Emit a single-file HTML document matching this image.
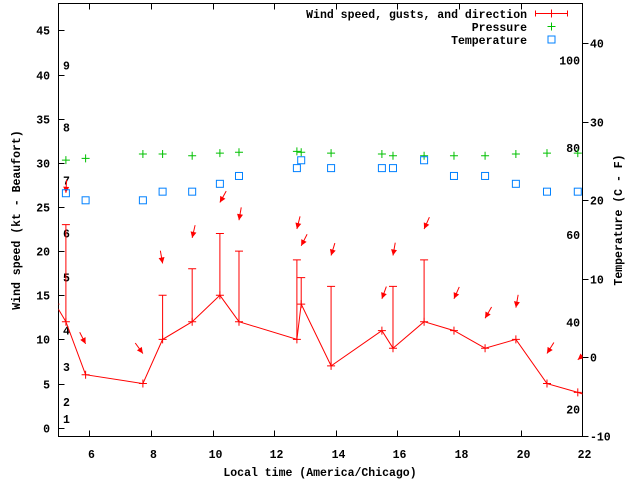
<!DOCTYPE html>
<html><head><meta charset="utf-8"><style>
body{margin:0;background:#fff}
svg{display:block}
text{font-family:"Liberation Mono",monospace;font-size:11.5px;font-weight:bold;fill:#000}
</style></head><body>
<svg id="chart" width="640" height="480" viewBox="0 0 640 480" xmlns="http://www.w3.org/2000/svg">
<defs><clipPath id="clip"><rect x="58.5" y="3.5" width="524" height="433"/></clipPath></defs>
<g id="axes"></g>
<g id="plot" clip-path="url(#clip)"></g>
<g id="legend"></g>
</svg>
<script>
// ---- data ----
const times = [4.9, 5.24, 5.88, 7.74, 8.38, 9.34, 10.24, 10.86, 12.74, 12.88, 13.85, 15.5, 15.86, 16.87, 17.84, 18.85, 19.85, 20.86, 21.86, 22.3];
const windSpeed = [14, 12, 6, 5, 10, 12, 15, 12, 10, 14, 7, 11, 9, 12, 11, 9, 10, 5, 4, 3.5];
const windGust = [null, 23, null, null, 15, 18, 22, 20, 19, 17, 16, null, 16, 19, null, null, null, null, null, null];
const arrowTimes = [5.24, 5.88, 7.74, 8.38, 9.34, 10.24, 10.86, 12.74, 12.88, 13.85, 15.5, 15.86, 16.87, 17.84, 18.85, 19.85, 20.86, 21.86];
const arrowLevel = [26.6, 9.5, 8.4, 18.6, 21.5, 25.5, 23.5, 22.5, 20.6, 19.5, 14.6, 19.5, 22.5, 14.6, 12.4, 13.6, 8.4, 7.7];
const windDir = [3, 333, 324, 350, 13, 29, 10, 14, 27, 17, 20, 10, 24, 24, 30, 10, 32, 50];
const obsTimes = [5.24, 5.88, 7.74, 8.38, 9.34, 10.24, 10.86, 12.74, 12.88, 13.85, 15.5, 15.86, 16.87, 17.84, 18.85, 19.85, 20.86, 21.86];
const pressure = [30.3, 30.5, 31.0, 31.0, 30.8, 31.1, 31.2, 31.3, 31.2, 31.1, 31.0, 30.8, 30.8, 30.8, 30.8, 31.0, 31.1, 31.1];
const tempC = [20.9, 20.0, 20.0, 21.1, 21.1, 22.1, 23.1, 24.1, 25.1, 24.1, 24.1, 24.1, 25.1, 23.1, 23.1, 22.1, 21.1, 21.1];
const xTicks = [6, 8, 10, 12, 14, 16, 18, 20, 22];
const yTicks = [0, 5, 10, 15, 20, 25, 30, 35, 40, 45];
const cTicks = [-10, 0, 10, 20, 30, 40];
const fTicks = [20, 40, 60, 80, 100];
const beaufortLabels = ['1','2','3','4','5','6','7','8','9'];
const beaufortPos = [1, 2.9, 6.9, 11, 17, 22, 28, 34, 41];

// ---- scales ----
const X = t => 58.5 + (t - 5) * 30.8;
const Y = v => 427.7 - v * 8.83;
const YC = c => 357.3 - c * 7.85;
const YF = f => YC((f - 32) * 5 / 9);

const NS = 'http://www.w3.org/2000/svg';
function mk(tag, attrs, parent, txt) {
  const e = document.createElementNS(NS, tag);
  for (const k in attrs) e.setAttribute(k, attrs[k]);
  if (txt !== undefined) e.textContent = txt;
  parent.appendChild(e);
  return e;
}
const axes = document.getElementById('axes');
const plot = document.getElementById('plot');
const legend = document.getElementById('legend');

// frame
let el = mk('rect', {x:58.5, y:3.5, width:524, height:433, fill:'none', stroke:'#000', 'stroke-width':1}, axes);



xTicks.forEach(t => {
  const x = Math.round(X(t)) + 0.5;
  mk('line', {x1:x, x2:x, y1:436.5, y2:430.5, stroke:'#000'}, axes);
  mk('line', {x1:x, x2:x, y1:3.5, y2:9.5, stroke:'#000'}, axes);
  const lb = mk('text', {x:x + 2, y:458, 'text-anchor':'middle'}, axes, String(t));
  
  
});
yTicks.forEach(v => {
  const y = Math.round(Y(v)) + 0.5;
  mk('line', {x1:58.5, x2:64.5, y1:y, y2:y, stroke:'#000'}, axes);
  const lb = mk('text', {x:50, y:y + 4, 'text-anchor':'end'}, axes, String(v));
  
  
});
cTicks.forEach(c => {
  const y = Math.round(YC(c)) + 0.5;
  mk('line', {x1:582.5, x2:588.5, y1:y, y2:y, stroke:'#000'}, axes);
  const lb = mk('text', {x:590, y:y + 4, 'text-anchor':'start'}, axes, String(c));
  
  
});
fTicks.forEach(f => {
  const lb = mk('text', {x:580, y:YF(f) + 4, 'text-anchor':'end'}, axes, String(f));
  
  
});
beaufortLabels.forEach((s, i) => {
  const lb = mk('text', {x:63, y:Y(beaufortPos[i]) + 4}, axes, s);
  
  
});
el = mk('text', {x:320, y:476, 'text-anchor':'middle'}, axes, 'Local time (America/Chicago)');


el = mk('text', {x:0, y:0, 'text-anchor':'middle', transform:'translate(20,220) rotate(-90)'}, axes, 'Wind speed (kt - Beaufort)');


el = mk('text', {x:0, y:0, 'text-anchor':'middle', transform:'translate(622,220) rotate(-90)'}, axes, 'Temperature (C - F)');



function plus(g, x, y, col) {
  mk('path', {d:`M${x-4},${y}H${x+4}M${x},${y-4}V${y+4}`, stroke:col, 'stroke-width':1, fill:'none'}, g);
}

// wind line
const pts = times.map((t, i) => X(t).toFixed(1) + ',' + Y(windSpeed[i]).toFixed(1)).join(' ');
el = mk('polyline', {points:pts, fill:'none', stroke:'#f00', 'stroke-width':1}, plot);


times.forEach((t, i) => {
  const x = X(t), y = Y(windSpeed[i]);
  const g = mk('g', {}, plot);
  
  
  plus(g, x, y, '#f00');
  if (windGust[i] !== null) {
    const yg = Y(windGust[i]);
    mk('path', {d:`M${x},${y}V${yg}M${x-4},${yg}H${x+4}`, stroke:'#f00', fill:'none'}, g);
  }
});
// arrows
arrowTimes.forEach((t, i) => {
  const hx = X(t), hy = Y(arrowLevel[i]);
  const a = windDir[i] * Math.PI / 180, L = 13;
  const ux = Math.sin(a), uy = -Math.cos(a);
  const tx = hx + ux * L, ty = hy + uy * L;
  const px = -uy, py = ux;
  const g = mk('g', {}, plot);
  
  
  mk('line', {x1:tx, y1:ty, x2:hx, y2:hy, stroke:'#f00'}, g);
  const bx = hx + ux * 6, by = hy + uy * 6;
  mk('polygon', {points:`${hx},${hy} ${bx + px*3},${by + py*3} ${bx - px*3},${by - py*3}`, fill:'#f00'}, g);
});
// pressure
obsTimes.forEach((t, i) => {
  const g = mk('g', {}, plot);
  
  
  plus(g, X(t), Y(pressure[i]), '#00c000');
});
// temperature
obsTimes.forEach((t, i) => {
  el = mk('rect', {x:X(t) - 3.5, y:YC(tempC[i]) - 3.5, width:7, height:7, fill:'none', stroke:'#0080ff'}, plot);
  
  
});

// legend
el = mk('text', {x:527, y:18, 'text-anchor':'end'}, legend, 'Wind speed, gusts, and direction');


el = mk('path', {d:'M535.5,13.5H567.5M535.5,10.5V16.5M567.5,10.5V16.5M551.5,9.5V17.5', stroke:'#f00', fill:'none'}, legend);


el = mk('text', {x:527, y:31, 'text-anchor':'end'}, legend, 'Pressure');


plus(legend, 551.5, 26.5, '#00c000');
el = mk('text', {x:527, y:44, 'text-anchor':'end'}, legend, 'Temperature');


el = mk('rect', {x:548, y:36, width:7, height:7, fill:'none', stroke:'#0080ff'}, legend);


</script>
</body></html>
